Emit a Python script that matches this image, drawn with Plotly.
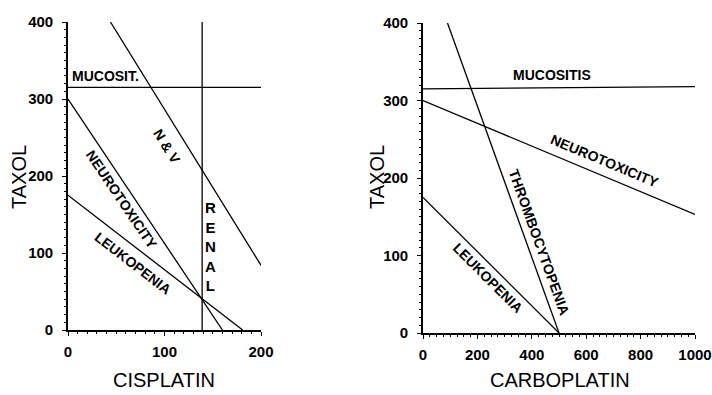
import plotly.graph_objects as go

# ---- data: left panel (Cisplatin vs Taxol) ----
cis_mucositis_x = [0, 200]
cis_mucositis_y = [315, 315]
cis_nv_x = [44, 200]
cis_nv_y = [400, 84]
cis_renal_x = [139, 139]
cis_renal_y = [0, 400]
cis_neuro_x = [0, 160]
cis_neuro_y = [300, 0]
cis_leuko_x = [0, 181]
cis_leuko_y = [175, 0]

# ---- data: right panel (Carboplatin vs Taxol) ----
carb_mucositis_x = [0, 1000]
carb_mucositis_y = [315, 318]
carb_neuro_x = [0, 1000]
carb_neuro_y = [300, 153]
carb_thrombo_x = [90, 500]
carb_thrombo_y = [400, 0]
carb_leuko_x = [0, 500]
carb_leuko_y = [175, 0]

x1_ticks = [0, 100, 200]
x2_ticks = [0, 200, 400, 600, 800, 1000]
y_ticks = [0, 100, 200, 300, 400]

LINE = dict(color="black", width=1.3)
TFONT = "Liberation Sans, Arial, sans-serif"

fig = go.Figure()
for xs, ys in [(cis_mucositis_x, cis_mucositis_y), (cis_nv_x, cis_nv_y),
               (cis_renal_x, cis_renal_y), (cis_neuro_x, cis_neuro_y),
               (cis_leuko_x, cis_leuko_y)]:
    fig.add_trace(go.Scatter(x=xs, y=ys, mode="lines", line=LINE,
                             xaxis="x", yaxis="y", showlegend=False, hoverinfo="skip",
                             cliponaxis=False))
for xs, ys in [(carb_mucositis_x, carb_mucositis_y), (carb_neuro_x, carb_neuro_y),
               (carb_thrombo_x, carb_thrombo_y), (carb_leuko_x, carb_leuko_y)]:
    fig.add_trace(go.Scatter(x=xs, y=ys, mode="lines", line=LINE,
                             xaxis="x2", yaxis="y2", showlegend=False, hoverinfo="skip",
                             cliponaxis=False))

def axis(domain, rng, ticks, minor, anchor, standoff):
    return dict(domain=domain, range=rng, tickvals=ticks, anchor=anchor,
                automargin=False,
                showgrid=False, zeroline=False, showline=True, linecolor="black",
                linewidth=1.6, ticks="outside", ticklen=4, tickwidth=1.3,
                tickcolor="black", ticklabelstandoff=standoff,
                tickfont=dict(family=TFONT, size=15, color="black", weight="bold"),
                minor=dict(dtick=minor, ticks="outside", ticklen=2, tickwidth=1,
                           tickcolor="black", showgrid=False),
                fixedrange=True)

W, H = 712, 395
fig.update_layout(
    template="none",
    width=W, height=H, margin=dict(l=0, r=0, t=0, b=0, autoexpand=False),
    paper_bgcolor="white", plot_bgcolor="white",
    xaxis=axis([68 / W, 261 / W], [0, 200], x1_ticks, 10, "y", 3),
    yaxis=axis([1 - 330 / H, 1 - 22 / H], [0, 400], y_ticks, 10, "x", 6),
    xaxis2=axis([423 / W, 695 / W], [0, 1000], x2_ticks, 25, "y2", 3),
    yaxis2=axis([1 - 333 / H, 1 - 23 / H], [0, 400], y_ticks, 10, "x2", 6),
)

ann = []
def lab(text, x, y, ang, xr, yr, size=14, **kw):
    d = dict(text=text, x=x, y=y, xref=xr, yref=yr, textangle=ang, showarrow=False,
             font=dict(family=TFONT, size=size, color="black", weight="bold"))
    d.update(kw)
    ann.append(d)

# left panel labels
lab("MUCOSIT.", 2, 330, 0, "x", "y", xanchor="left")
lab("N &amp; V", 103, 238, 58, "x", "y")
lab("NEUROTOXICITY", 56, 169, 56, "x", "y")
lab("LEUKOPENIA", 67, 87, 37.5, "x", "y")
lab("R<br>E<br>N<br>A<br>L", 148, 108, 0, "x", "y", size=15)
# right panel labels
lab("MUCOSITIS", 474, 333, 0, "x2", "y2")
lab("NEUROTOXICITY", 669, 222, 22.7, "x2", "y2")
lab("THROMBOCYTOPENIA", 426, 117, 70.2, "x2", "y2")
lab("LEUKOPENIA", 239, 71, 44.9, "x2", "y2")

# axis titles
for t, x, y, a in [("TAXOL", 19, 177, -90), ("TAXOL", 377, 177, -90),
                   ("CISPLATIN", 164, 380, 0), ("CARBOPLATIN", 560, 380, 0)]:
    ann.append(dict(text=t, x=x / W, y=1 - y / H, xref="paper", yref="paper",
                    textangle=a, showarrow=False, xanchor="center", yanchor="middle",
                    font=dict(family=TFONT, size=20, color="black")))

fig.update_layout(annotations=ann)
fig.write_html("out.html")
